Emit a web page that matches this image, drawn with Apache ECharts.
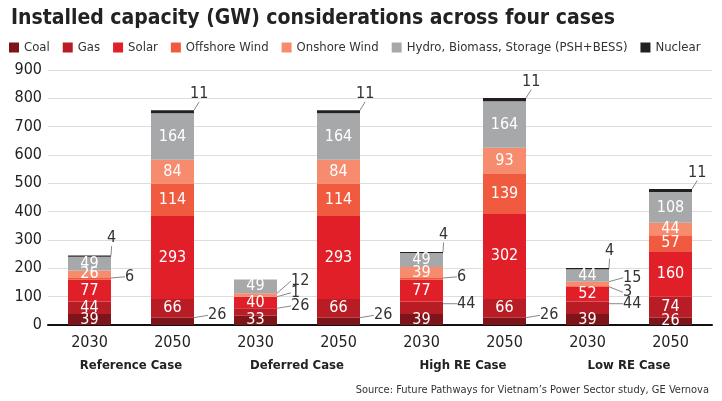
<!DOCTYPE html><html><head><meta charset="utf-8"><script src="https://cdn.jsdelivr.net/npm/echarts@6/dist/echarts.min.js"></script>
<style>body{margin:0}#c{width:722px;height:401px}</style></head><body><div id="c"></div><script>
const years=['2030','2050','2030','2050','2030','2050','2030','2050'];
const cases=['Reference Case','Deferred Case','High RE Case','Low RE Case'];
const coal=[39,26,33,26,39,26,39,26];
const gas=[44,66,26,66,44,66,44,74];
const solar=[77,293,40,293,77,302,52,160];
const offshore=[6,114,1,114,6,139,3,57];
const onshore=[26,84,12,84,39,93,15,44];
const hydro=[49,164,49,164,49,164,44,108];
const nuclear=[4,11,0,11,4,11,4,11];
const names=['Coal','Gas','Solar','Offshore Wind','Onshore Wind','Hydro, Biomass, Storage (PSH+BESS)','Nuclear'];
const colors=['#7d1419','#b81d26','#e01f28','#f05a3e','#f68b6e','#a7a8aa','#231f20'];
const vals=[coal,gas,solar,offshore,onshore,hydro,nuclear];
const outside={'0-1':[14,-6],'0-3':[14,-6],'0-5':[14,-6],
'1-2':[14,-6],'1-4':[14,-4],'1-6':[14,-4],
'3-0':[14,-2],'3-2':[14,-4],'3-4':[14,-2],'3-6':[14,6],
'4-2':[14,-14],'4-6':[14,-6],
'6-0':[-4,-18],'6-1':[-4,-18],'6-3':[-4,-18],'6-4':[-4,-18],'6-5':[-4,-18],'6-6':[-4,-18],'6-7':[-4,-18]};
const F='"DejaVu Sans Condensed","Roboto",sans-serif';
const series=vals.map((arr,s)=>({name:names[s],type:'bar',stack:'a',barWidth:43,
 itemStyle:{color:colors[s]},
 data:arr.map((v,i)=>{const o=outside[s+'-'+i];
  if(v===0)return {value:0,label:{show:false}};
  return o?{value:v,label:{show:true,color:'#333'},labelLine:{show:true,lineStyle:{color:'#888',width:1}}}:{value:v};}),
 label:{show:true,position:'inside',color:'#fff',fontSize:16,fontFamily:F},
 labelLayout:function(p){const o=outside[p.seriesIndex+'-'+p.dataIndex];if(!o)return {};
  const r=p.rect;return {x:r.x+r.width+o[0],y:r.y+r.height/2+o[1],align:'left',verticalAlign:'middle'};}
}));
const ch=echarts.init(document.getElementById('c'));
ch.setOption({animation:false,textStyle:{fontFamily:F},
 title:[{text:'Installed capacity (GW) considerations across four cases',left:6,top:3,textStyle:{fontSize:21,fontWeight:'bold',color:'#222',fontFamily:F}},
 {text:'Source: Future Pathways for Vietnam\u2019s Power Sector study, GE Vernova',right:8,top:380,textStyle:{fontSize:11,fontWeight:'normal',color:'#333',fontFamily:F}}],
 legend:{top:36,left:4,itemWidth:10,itemHeight:10,itemGap:13,textStyle:{fontSize:13,color:'#333',fontFamily:F},data:names.map(n=>({name:n,icon:'rect'}))},
 grid:{left:48,right:10,top:70,bottom:76,outerBoundsMode:'none'},
 xAxis:[{type:'category',data:years,axisTick:{show:false},axisLine:{lineStyle:{color:'#111',width:2}},axisLabel:{fontSize:16,color:'#222',margin:10}},
 {type:'category',data:cases,position:'bottom',offset:26,axisTick:{show:false},axisLine:{show:false},axisLabel:{fontSize:13,fontWeight:'bold',color:'#222'}}],
 yAxis:{type:'value',min:0,max:900,interval:100,name:'GW',nameLocation:'middle',nameRotate:90,nameGap:34,nameTextStyle:{fontSize:14,color:'#222'},
  axisLabel:{fontSize:16,color:'#222',margin:6},splitLine:{lineStyle:{color:'#ddd'}}},
 series:series
});
</script></body></html>
